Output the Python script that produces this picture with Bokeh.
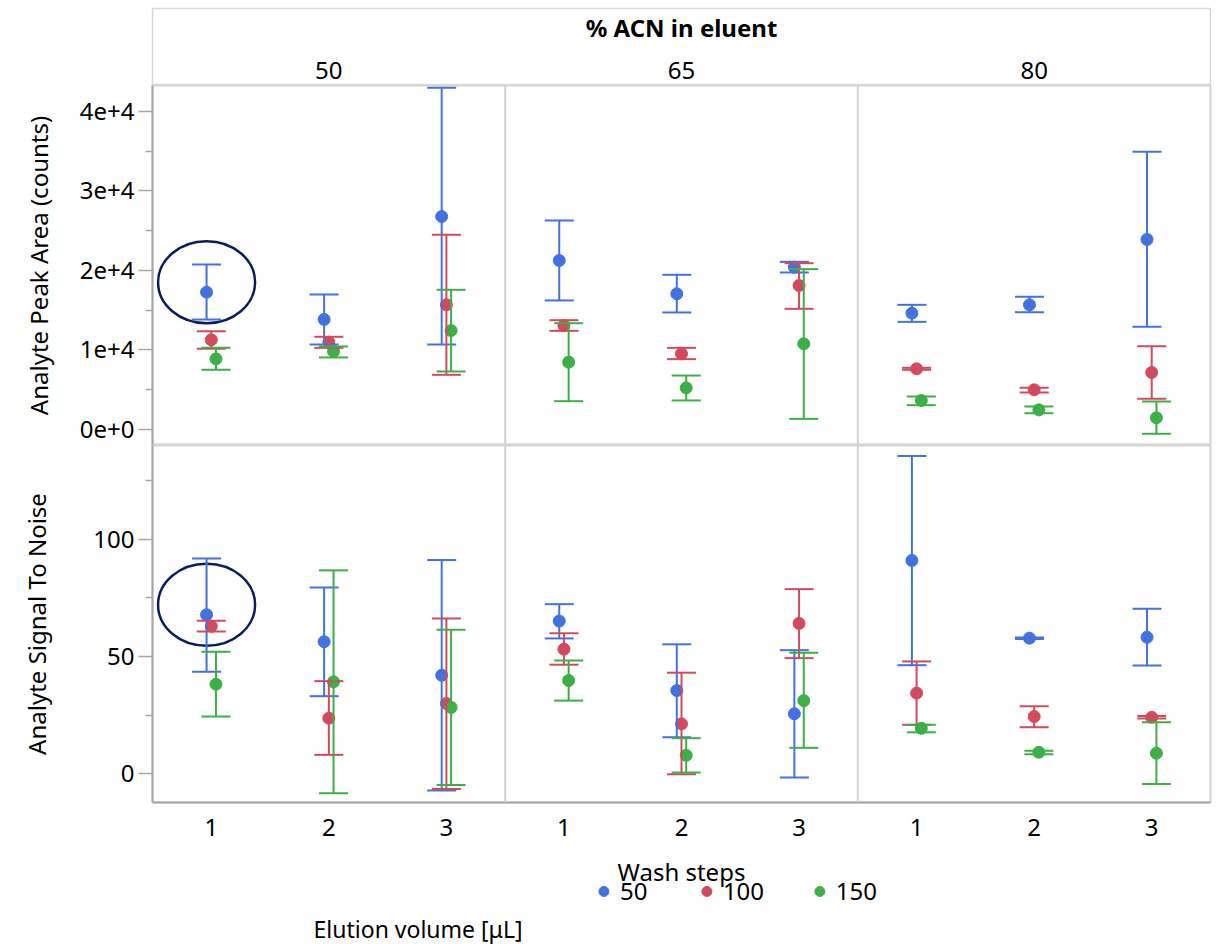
from bokeh.plotting import figure
from bokeh.layouts import column
from bokeh.models import Range1d, FixedTicker, Span, ColumnDataSource, Whisker, TeeHead
from bokeh.core.properties import value
from bokeh.embed import file_html
from bokeh.resources import INLINE

# ---------------- data ----------------
acn_levels = ["50", "65", "80"]          # % ACN in eluent (panels)
wash_steps = ["1", "2", "3"]             # x categories inside each panel
volumes = ["50", "100", "150"]           # elution volume [uL] (series)
colors = ["#4372e0", "#d24a5b", "#3daf47"]

# Analyte Peak Area (counts); order: ACN 50 (w1,w2,w3), ACN 65 (...), ACN 80 (...)
area_mean_50 = [17270, 13840, 26790, 21260, 17070, 20420, 14630, 15680, 23900]
area_lo_50 = [13840, 10690, 10690, 16230, 14720, 19750, 13540, 14760, 12920]
area_hi_50 = [20750, 16980, 43000, 26290, 19460, 21090, 15680, 16690, 34930]

area_mean_100 = [11280, 10980, 15680, 13080, 9520, 18110, 7630, 4990, 7170]
area_lo_100 = [10150, 10270, 6880, 12410, 8850, 15180, 7510, 4650, 3860]
area_hi_100 = [12370, 11660, 24490, 13750, 10270, 20920, 7760, 5240, 10480]

area_mean_150 = [8890, 9810, 12450, 8470, 5240, 10780, 3650, 2470, 1470]
area_lo_150 = [7510, 9060, 7300, 3560, 3650, 1340, 3060, 2050, -540]
area_hi_150 = [10270, 10440, 17570, 13370, 6790, 20170, 4150, 2890, 3520]

# Analyte Signal To Noise
sn_mean_50 = [67.8, 56.3, 42.0, 65.1, 35.5, 25.6, 90.9, 57.8, 58.2]
sn_lo_50 = [43.5, 33.1, -7.1, 57.7, 15.6, -1.6, 46.3, 57.5, 46.2]
sn_hi_50 = [91.8, 79.4, 91.1, 72.3, 55.2, 52.7, 135.4, 58.1, 70.3]

sn_mean_100 = [62.9, 23.7, 30.0, 53.1, 21.3, 64.1, 34.4, 24.4, 24.1]
sn_lo_100 = [60.7, 8.1, -6.5, 46.5, -0.2, 49.3, 20.9, 19.9, 23.6]
sn_hi_100 = [65.2, 39.5, 66.2, 59.9, 43.1, 78.7, 47.9, 28.8, 24.7]

sn_mean_150 = [38.2, 39.2, 28.3, 39.8, 7.9, 31.2, 19.4, 9.2, 8.8]
sn_lo_150 = [24.4, -8.3, -4.7, 31.2, 0.6, 11.1, 17.7, 8.4, -4.3]
sn_hi_150 = [52.0, 86.7, 61.4, 48.3, 15.2, 51.6, 20.9, 9.9, 22.0]

area_ticks = [0, 10000, 20000, 30000, 40000]
area_tick_labels = ["0e+0", "1e+4", "2e+4", "3e+4", "4e+4"]
sn_ticks = [0, 50, 100]
sn_tick_labels = ["0", "50", "100"]

# ---------------- styling / layout ----------------
FONT = "Noto Sans"
W = 1223
LEFT, RIGHT = 152, 13
AXIS_GREY = "#a6a6a6"
SEP_GREY = "#d4d4d4"
n_wash = len(wash_steps)
n = len(acn_levels) * n_wash
x_base = [i + 1 for i in range(n)]
dodge = [-0.04, 0.0, 0.04]


def base_fig(height, y_range, top=0, bottom=0, xaxis=None, yaxis=None):
    p = figure(width=W, height=height, x_range=Range1d(0.5, n + 0.5), y_range=y_range,
               output_backend="svg", toolbar_location=None,
               x_axis_location=xaxis, y_axis_location=yaxis,
               min_border_left=LEFT, min_border_right=RIGHT,
               min_border_top=top, min_border_bottom=bottom)
    p.grid.visible = False
    p.background_fill_color = "white"
    p.border_fill_color = "white"
    return p


def style_y(p, ticks, labels, title, standoff, minor):
    ax = p.yaxis[0]
    ax.ticker = FixedTicker(ticks=ticks, minor_ticks=minor)
    ax.major_label_overrides = {t: l for t, l in zip(ticks, labels)}
    ax.axis_line_color = AXIS_GREY
    ax.axis_line_width = 2
    ax.major_tick_line_color = AXIS_GREY
    ax.major_tick_line_width = 1.5
    ax.major_tick_out = 14
    ax.major_tick_in = 0
    ax.minor_tick_line_color = AXIS_GREY
    ax.minor_tick_line_width = 1.5
    ax.minor_tick_out = 7
    ax.minor_tick_in = 0
    ax.major_label_text_font = FONT
    ax.major_label_text_font_size = "24px"
    ax.major_label_text_color = "black"
    ax.major_label_standoff = 4
    ax.axis_label = title
    ax.axis_label_text_font = FONT
    ax.axis_label_text_font_size = "24px"
    ax.axis_label_text_font_style = "normal"
    ax.axis_label_text_color = "black"
    ax.axis_label_standoff = standoff


def panel(height, y0, y1, bottom, xaxis):
    p = base_fig(height, Range1d(y0, y1), top=0, bottom=bottom, xaxis=xaxis, yaxis="left")
    p.outline_line_color = SEP_GREY
    p.outline_line_width = 2
    for k in range(1, len(acn_levels)):
        p.add_layout(Span(location=k * n_wash + 0.5, dimension="height",
                          line_color=SEP_GREY, line_width=2))
    return p


def draw_series(p, means, los, his):
    for j in range(len(volumes)):
        xs = [x + dodge[j] for x in x_base]
        src = ColumnDataSource(dict(x=xs, y=means[j], lo=los[j], hi=his[j]))
        wk = Whisker(source=src, base="x", lower="lo", upper="hi", dimension="height",
                     line_color=colors[j], line_width=2, level="glyph",
                     upper_head=TeeHead(size=29, line_color=colors[j], line_width=2),
                     lower_head=TeeHead(size=29, line_color=colors[j], line_width=2))
        p.add_layout(wk)
        p.scatter("x", "y", source=src, size=12, fill_color=colors[j], line_color=colors[j])


def highlight(p, y0, y1, frame_h, x, y):
    off = 10 * (y1 - y0) / frame_h
    p.ellipse(x=[x], y=[y + off], width=97, height=82, width_units="screen",
              height_units="screen", fill_color=None, line_color="#0b1d5e", line_width=2.5)


# header
header = base_fig(85, Range1d(77, 0), top=8)
header.outline_line_color = "#d9d9d9"
header.outline_line_width = 1.5
header.text(x=[(n + 1) / 2], y=[19], text=["% ACN in eluent"], text_font=value(FONT),
            text_font_size=value("24px"), text_font_style="bold", text_align="center",
            text_baseline="middle", text_color="black")
header.text(x=[i * n_wash + (n_wash + 1) / 2 for i in range(len(acn_levels))],
            y=[62] * len(acn_levels), text=acn_levels, text_font=value(FONT),
            text_font_size=value("24px"), text_align="center", text_baseline="middle",
            text_color="black")

# top panel: peak area
A0, A1, AH = -2013, 43270, 360
top = panel(AH, A0, A1, 0, None)
style_y(top, area_ticks, area_tick_labels, "Analyte Peak Area (counts)", 22,
        [t + 5000 for t in area_ticks])
draw_series(top, [area_mean_50, area_mean_100, area_mean_150],
            [area_lo_50, area_lo_100, area_lo_150], [area_hi_50, area_hi_100, area_hi_150])
highlight(top, A0, A1, AH, x_base[0] + dodge[0], area_mean_50[0])

# bottom panel: S/N
S0, S1, SH = -12.2, 139.9, 357
BOT_BORDER = 50
bot = panel(SH + BOT_BORDER, S0, S1, BOT_BORDER, "below")
style_y(bot, sn_ticks, sn_tick_labels, "Analyte Signal To Noise", 37,
        [t + 25 for t in sn_ticks])
xa = bot.xaxis[0]
xa.ticker = FixedTicker(ticks=x_base, minor_ticks=[])
xa.major_label_overrides = {x: wash_steps[(x - 1) % n_wash] for x in x_base}
xa.axis_line_color = AXIS_GREY
xa.axis_line_width = 2
xa.major_tick_out = 0
xa.major_tick_in = 0
xa.major_tick_line_color = None
xa.minor_tick_line_color = None
xa.major_label_text_font = FONT
xa.major_label_text_font_size = "24px"
xa.major_label_text_color = "black"
xa.major_label_standoff = 16
draw_series(bot, [sn_mean_50, sn_mean_100, sn_mean_150],
            [sn_lo_50, sn_lo_100, sn_lo_150], [sn_hi_50, sn_hi_100, sn_hi_150])
highlight(bot, S0, S1, SH, x_base[0] + dodge[0], sn_mean_50[0])

# footer: x-axis title and legend
FH = 944 - (85 + AH + SH + BOT_BORDER)
footer = base_fig(FH, Range1d(FH, 0))
footer.outline_line_color = None
footer.text(x=[(n + 1) / 2], y=[19], text=["Wash steps"], text_font=value(FONT),
            text_font_size=value("24px"), text_align="center", text_baseline="middle",
            text_color="black")
footer.text(x=[1.87], y=[FH - 16], text=["Elution volume [μL]"], text_font=value(FONT),
            text_font_size=value("23px"), text_align="left", text_baseline="middle",
            text_color="black")
lx = []
cur = 4.34
for vname in volumes:
    lx.append(cur)
    cur += 0.706 + 0.085 * len(vname)
footer.scatter(x=lx, y=[39] * len(volumes), size=10, fill_color=colors, line_color=colors)
footer.text(x=[v + 0.136 for v in lx], y=[39] * len(volumes), text=volumes,
            text_font=value(FONT), text_font_size=value("24px"), text_align="left",
            text_baseline="middle", text_color="black")

layout = column(header, top, bot, footer, spacing=0)
open("out.html", "w").write(file_html(layout, INLINE))
